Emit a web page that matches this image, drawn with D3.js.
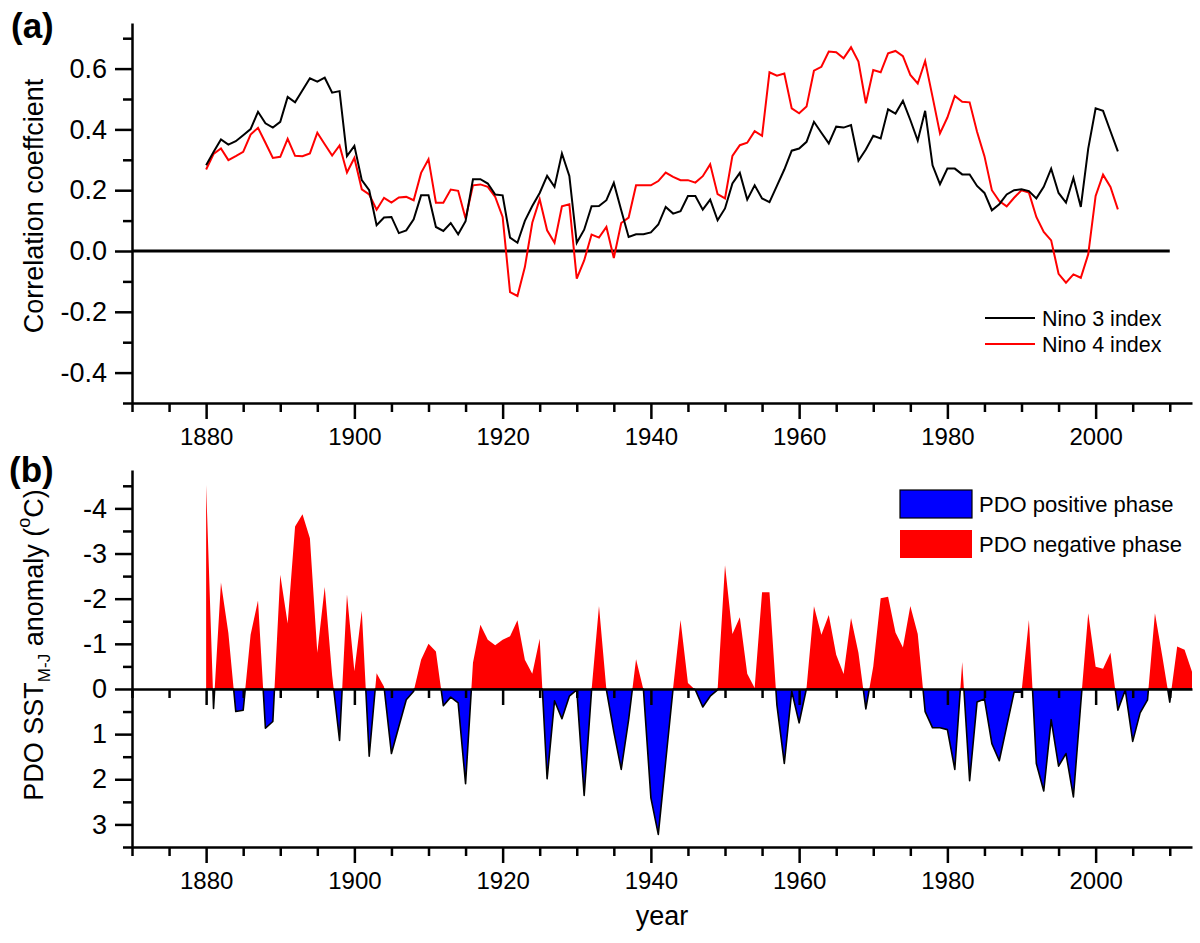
<!DOCTYPE html>
<html>
<head>
<meta charset="utf-8">
<script src="https://cdn.jsdelivr.net/npm/d3@7"></script>
<style>
  body { margin: 0; background: #fff; }
  text { font-family: "Liberation Sans", Arial, sans-serif; fill: #000; }
</style>
</head>
<body>
<div id="chart"></div>
<script>
// years of the two correlation series start in 1880
var ninoStartYear = 1880;
var nino3Values = [
  0.282, 0.326, 0.367, 0.350, 0.361, 0.381, 0.401, 0.458, 0.420, 0.406,
  0.425, 0.507, 0.489, 0.529, 0.568, 0.557, 0.570, 0.521, 0.526, 0.312,
  0.346, 0.233, 0.200, 0.085, 0.110, 0.112, 0.059, 0.068, 0.104, 0.183,
  0.183, 0.079, 0.066, 0.092, 0.055, 0.098, 0.236, 0.236, 0.222, 0.186,
  0.183, 0.044, 0.027, 0.099, 0.148, 0.191, 0.247, 0.211, 0.321, 0.247,
  0.027, 0.070, 0.147, 0.148, 0.167, 0.224, 0.134, 0.046, 0.055, 0.055,
  0.061, 0.087, 0.145, 0.123, 0.131, 0.181, 0.181, 0.136, 0.169, 0.101,
  0.140, 0.222, 0.257, 0.169, 0.216, 0.173, 0.161, 0.214, 0.268, 0.330,
  0.337, 0.359, 0.425, 0.389, 0.354, 0.409, 0.406, 0.414, 0.297, 0.334,
  0.379, 0.370, 0.466, 0.452, 0.494, 0.431, 0.363, 0.461, 0.282, 0.220,
  0.271, 0.271, 0.252, 0.252, 0.214, 0.191, 0.134, 0.154, 0.186, 0.200,
  0.203, 0.197, 0.173, 0.211, 0.271, 0.191, 0.159, 0.240, 0.145, 0.337,
  0.469, 0.461, 0.394, 0.328
];
var nino4Values = [
  0.268, 0.319, 0.337, 0.299, 0.312, 0.326, 0.383, 0.405, 0.356, 0.306,
  0.310, 0.369, 0.313, 0.312, 0.321, 0.389, 0.351, 0.314, 0.347, 0.258,
  0.306, 0.203, 0.186, 0.136, 0.175, 0.159, 0.176, 0.178, 0.167, 0.257,
  0.302, 0.159, 0.159, 0.202, 0.198, 0.107, 0.216, 0.219, 0.211, 0.178,
  0.112, -0.135, -0.148, -0.053, 0.093, 0.170, 0.068, 0.027, 0.147, 0.154,
  -0.091, -0.031, 0.054, 0.044, 0.079, -0.023, 0.092, 0.110, 0.216, 0.216,
  0.216, 0.230, 0.258, 0.244, 0.233, 0.233, 0.225, 0.246, 0.285, 0.187,
  0.173, 0.313, 0.348, 0.356, 0.394, 0.379, 0.588, 0.577, 0.584, 0.469,
  0.453, 0.475, 0.593, 0.606, 0.656, 0.654, 0.634, 0.670, 0.623, 0.486,
  0.595, 0.588, 0.650, 0.658, 0.641, 0.579, 0.551, 0.625, 0.507, 0.387,
  0.439, 0.510, 0.491, 0.489, 0.392, 0.312, 0.200, 0.164, 0.147, 0.175,
  0.200, 0.192, 0.112, 0.063, 0.035, -0.075, -0.104, -0.077, -0.088, -0.011,
  0.181, 0.251, 0.211, 0.137
];

// PDO SST anomaly, 1880-2013
var pdoStartYear = 1880;
var pdoValues = [
  -4.52, 0.43, -2.36, -1.24, 0.50, 0.47, -1.20, -1.96, 0.87, 0.72,
  -2.53, -1.45, -3.60, -3.87, -3.34, -0.80, -2.26, -0.30, 1.14, -2.09,
  -0.39, -1.73, 1.49, -0.35, -0.05, 1.43, 0.83, 0.24, 0.05, -0.65,
  -1.00, -0.83, 0.37, 0.18, 0.31, 2.10, -0.58, -1.42, -1.09, -0.97,
  -1.09, -1.17, -1.52, -0.65, -0.34, -1.11, 1.99, 0.26, 0.66, 0.16,
  0.02, 2.36, 0.02, -1.84, 0.02, 0.95, 1.78, 0.68, -0.66, 0.02,
  2.41, 3.22, 1.60, -0.02, -1.53, -0.13, 0.02, 0.40, 0.16, 0.02,
  -2.74, -1.22, -1.59, -0.34, -0.02, -2.14, -2.14, 0.35, 1.65, 0.05,
  0.75, -0.02, -1.83, -1.20, -1.64, -0.76, -0.33, -1.57, -0.80, 0.44,
  -0.50, -2.01, -2.04, -1.25, -0.92, -1.84, -1.22, 0.50, 0.86, 0.86,
  0.90, 1.78, -0.60, 2.03, 0.29, 0.22, 1.21, 1.59, 0.83, 0.07,
  0.07, -1.53, 1.65, 2.26, 0.68, 1.71, 1.43, 2.39, 0.31, -1.68,
  -0.49, -0.45, -0.80, 0.47, 0.02, 1.16, 0.53, 0.24, -1.68, -0.72,
  0.29, -0.94, -0.87, -0.38
];

var yearTicks = [1880, 1900, 1920, 1940, 1960, 1980, 2000];
var corrTicks = [-0.4, -0.2, 0.0, 0.2, 0.4, 0.6];
var pdoTicks = [-4, -3, -2, -1, 0, 1, 2, 3];

var width = 1200, height = 943;

var svg = d3.select("#chart").append("svg")
  .attr("width", width)
  .attr("height", height);

var x = d3.scaleLinear().domain([1870, 2013]).range([132, 1192]);
var ya = d3.scaleLinear().domain([-0.5, 0.75]).range([403, 23]);
var yb = d3.scaleLinear().domain([-4.85, 3.5]).range([470, 847]);

var minorYears = d3.range(1870, 2011, 5).filter(function(d) { return yearTicks.indexOf(d) < 0; });

function styleAxis(g, fs) {
  g.selectAll("path.domain").attr("stroke", "#000").attr("stroke-width", 2.5);
  g.selectAll(".tick line").attr("stroke", "#000").attr("stroke-width", 2.5);
  g.selectAll(".tick text").style("font-size", (fs || 24) + "px")
    .style("font-family", "'Liberation Sans', Arial, sans-serif");
}

function xAxes(yPos, labels) {
  var minor = svg.append("g").attr("transform", "translate(0," + yPos + ")")
    .call(d3.axisBottom(x).tickValues(minorYears).tickSize(9).tickSizeOuter(0).tickFormat(""));
  styleAxis(minor);
  var major = svg.append("g").attr("transform", "translate(0," + yPos + ")")
    .call(d3.axisBottom(x).tickValues(yearTicks).tickSize(16).tickSizeOuter(0).tickPadding(9)
      .tickFormat(labels ? d3.format("d") : ""));
  styleAxis(major, 24);
  major.select("path.domain").remove();
}

// ---------- panel (a) ----------
xAxes(403, true);

var corrMinor = d3.range(-5, 8, 1).map(function(d) { return d / 10; })
  .filter(function(d) { return Math.round(d * 10) % 2 !== 0; });
var ayMinor = svg.append("g").attr("transform", "translate(132,0)")
  .call(d3.axisLeft(ya).tickValues(corrMinor).tickSize(9).tickSizeOuter(0).tickFormat(""));
styleAxis(ayMinor);
var ayMajor = svg.append("g").attr("transform", "translate(132,0)")
  .call(d3.axisLeft(ya).tickValues(corrTicks).tickSize(17).tickSizeOuter(0).tickPadding(8)
    .tickFormat(function(d) { return d.toFixed(1); }));
styleAxis(ayMajor, 27);
ayMajor.select("path.domain").remove();

svg.append("line")
  .attr("x1", x(1870)).attr("x2", x(2010))
  .attr("y1", ya(0)).attr("y2", ya(0))
  .attr("stroke", "#000").attr("stroke-width", 2.8);

var ninoLine = d3.line()
  .x(function(d, i) { return x(ninoStartYear + i); })
  .y(function(d) { return ya(d); });

svg.append("path").datum(nino4Values)
  .attr("d", ninoLine).attr("fill", "none")
  .attr("stroke", "#ff0000").attr("stroke-width", 2);
svg.append("path").datum(nino3Values)
  .attr("d", ninoLine).attr("fill", "none")
  .attr("stroke", "#000").attr("stroke-width", 2);

var legA = [
  { label: "Nino 3 index", color: "#000", y: 318 },
  { label: "Nino 4 index", color: "#ff0000", y: 344 }
];
legA.forEach(function(d) {
  svg.append("line").attr("x1", 985).attr("x2", 1035).attr("y1", d.y).attr("y2", d.y)
    .attr("stroke", d.color).attr("stroke-width", 2);
  svg.append("text").attr("x", 1042).attr("y", d.y + 7.5)
    .style("font-size", "21.5px").text(d.label);
});

svg.append("text").attr("x", 11).attr("y", 38)
  .style("font-size", "35px").style("font-weight", "bold").text("(a)");

svg.append("text")
  .attr("transform", "translate(43,206) rotate(-90)")
  .attr("text-anchor", "middle")
  .style("font-size", "27px")
  .text("Correlation coeffcient");

// ---------- panel (b) ----------
// split the series at zero crossings so both phases can be filled exactly
var pdoPts = [];
pdoValues.forEach(function(v, i) {
  var yr = pdoStartYear + i;
  if (i > 0) {
    var pv = pdoValues[i - 1];
    if ((pv < 0 && v > 0) || (pv > 0 && v < 0)) {
      pdoPts.push({ year: yr - 1 + pv / (pv - v), v: 0 });
    }
  }
  pdoPts.push({ year: yr, v: v });
});

var negArea = d3.area()
  .x(function(d) { return x(d.year); })
  .y0(yb(0))
  .y1(function(d) { return yb(Math.min(d.v, 0)); });
var posArea = d3.area()
  .x(function(d) { return x(d.year); })
  .y0(yb(0))
  .y1(function(d) { return yb(Math.max(d.v, 0)); });
var posLine = d3.line()
  .x(function(d) { return x(d.year); })
  .y(function(d) { return yb(Math.max(d.v, 0)); });

svg.append("path").datum(pdoPts).attr("d", negArea).attr("fill", "#ff0000");
svg.append("path").datum(pdoPts).attr("d", posArea).attr("fill", "#0000ff");
svg.append("path").datum(pdoPts).attr("d", posLine)
  .attr("fill", "none").attr("stroke", "#000").attr("stroke-width", 1.6)
  .attr("stroke-linejoin", "round");

xAxes(847, true);

// zero line of panel (b) carries the year ticks too
var zMinor = svg.append("g").attr("transform", "translate(0," + yb(0) + ")")
  .call(d3.axisBottom(x).tickValues(minorYears).tickSize(9).tickSizeOuter(0).tickFormat(""));
styleAxis(zMinor);
var zMajor = svg.append("g").attr("transform", "translate(0," + yb(0) + ")")
  .call(d3.axisBottom(x).tickValues(yearTicks).tickSize(16).tickSizeOuter(0).tickFormat(""));
styleAxis(zMajor);
zMajor.select("path.domain").remove();

var pdoMinor = d3.range(-9, 8, 2).map(function(d) { return d / 2; });
var byMinor = svg.append("g").attr("transform", "translate(132,0)")
  .call(d3.axisLeft(yb).tickValues(pdoMinor).tickSize(9).tickSizeOuter(0).tickFormat(""));
styleAxis(byMinor);
var byMajor = svg.append("g").attr("transform", "translate(132,0)")
  .call(d3.axisLeft(yb).tickValues(pdoTicks).tickSize(17).tickSizeOuter(0).tickPadding(8)
    .tickFormat(function(d) { return String(d); }));
styleAxis(byMajor, 27);
byMajor.select("path.domain").remove();

svg.append("rect").attr("x", 900).attr("y", 490).attr("width", 72).attr("height", 28)
  .attr("fill", "#0000ff").attr("stroke", "#000").attr("stroke-width", 1.2);
svg.append("rect").attr("x", 900).attr("y", 530).attr("width", 72).attr("height", 28)
  .attr("fill", "#ff0000");
svg.append("text").attr("x", 979).attr("y", 512).style("font-size", "22px").text("PDO positive phase");
svg.append("text").attr("x", 979).attr("y", 552).style("font-size", "22px").text("PDO negative phase");

svg.append("text").attr("x", 9).attr("y", 482)
  .style("font-size", "35px").style("font-weight", "bold").text("(b)");

var pdoTitle = svg.append("text")
  .attr("transform", "translate(43,645) rotate(-90)")
  .attr("text-anchor", "middle")
  .style("font-size", "27px");
pdoTitle.append("tspan").text("PDO SST");
pdoTitle.append("tspan").attr("dy", 7).style("font-size", "17px").text("M-J");
pdoTitle.append("tspan").attr("dy", -7).text(" anomaly (");
pdoTitle.append("tspan").attr("dy", -13).style("font-size", "18px").text("o");
pdoTitle.append("tspan").attr("dy", 13).text("C)");

svg.append("text").attr("x", 662).attr("y", 925)
  .attr("text-anchor", "middle")
  .style("font-size", "27px")
  .text("year");
</script>
</body>
</html>
